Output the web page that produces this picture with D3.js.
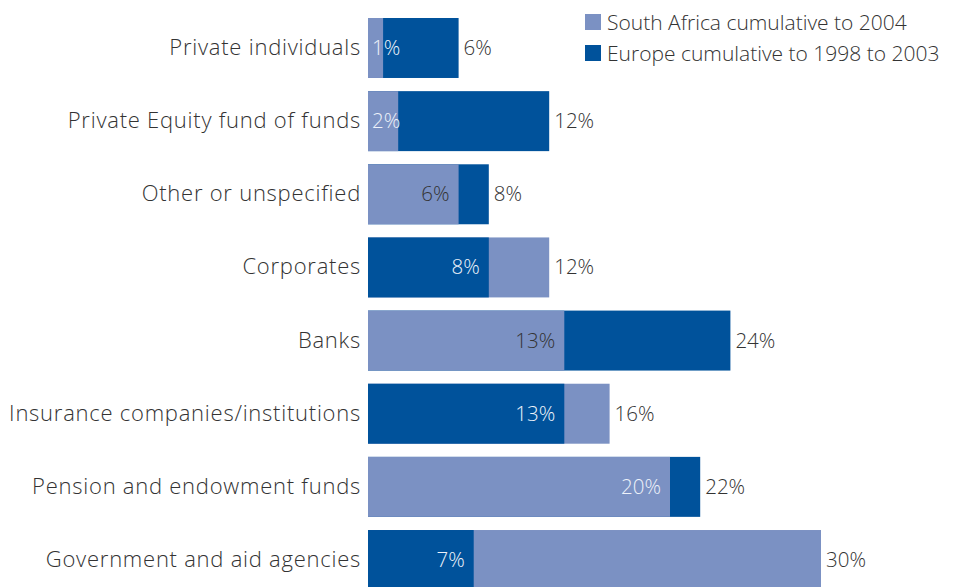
<!DOCTYPE html>
<html>
<head>
<meta charset="utf-8">
<script src="https://cdn.jsdelivr.net/npm/d3@7/dist/d3.min.js"></script>
<style>
  html, body { margin: 0; padding: 0; background: #fff; }
  svg { display: block; }
  text { font-family: "Open Sans", "Liberation Sans", sans-serif; font-weight: 300; }
</style>
</head>
<body>
<svg id="chart" width="955" height="587"></svg>
<script>
// Sources of private equity funds raised, share of total (%)
const categories = [
  "Private individuals",
  "Private Equity fund of funds",
  "Other or unspecified",
  "Corporates",
  "Banks",
  "Insurance companies/institutions",
  "Pension and endowment funds",
  "Government and aid agencies"
];
const southAfrica = [1, 2, 6, 12, 13, 16, 20, 30];
const europe      = [6, 12, 8, 8, 24, 13, 22, 7];
const seriesNames = ["South Africa cumulative to 2004", "Europe cumulative to 1998 to 2003"];

const colors = { sa: "#7b91c3", eu: "#00529b" };
const textDark = "#333333";
const textLight = "#eef2fa";
// rows whose inner label sits on a light bar but is set in dark text
const darkInner = new Set(["Other or unspecified", "Banks"]);

const svg = d3.select("#chart");

const x = d3.scaleLinear().domain([0, 30]).range([368, 821]);
const y = d3.scaleBand().domain(categories).range([18, 590]).paddingInner(0.18).paddingOuter(0);

const rows = categories.map((c, i) => {
  const s = southAfrica[i], e = europe[i];
  return {
    cat: c,
    back:  s >= e ? { v: s, key: "sa" } : { v: e, key: "eu" },
    front: s >= e ? { v: e, key: "eu" } : { v: s, key: "sa" }
  };
});

const g = svg.append("g");

const row = g.selectAll("g.row").data(rows).join("g").attr("class", "row");

// longer bar behind, shorter bar in front, both from zero
row.append("rect")
  .attr("x", x(0))
  .attr("y", d => y(d.cat))
  .attr("width", d => x(d.back.v) - x(0))
  .attr("height", y.bandwidth())
  .attr("fill", d => colors[d.back.key]);

row.append("rect")
  .attr("x", x(0))
  .attr("y", d => y(d.cat))
  .attr("width", d => x(d.front.v) - x(0))
  .attr("height", y.bandwidth())
  .attr("fill", d => colors[d.front.key]);

const mid = d => y(d.cat) + y.bandwidth() / 2;

// category labels
row.append("text")
  .attr("x", x(0) - 7)
  .attr("y", d => mid(d) - 2)
  .attr("text-anchor", "end")
  .attr("dominant-baseline", "central")
  .attr("font-size", 22)
  .attr("letter-spacing", 0.75)
  .attr("fill", textDark)
  .text(d => d.cat);

// outer value labels
row.append("text")
  .attr("x", d => x(d.back.v) + 5)
  .attr("y", d => mid(d) - 1)
  .attr("dominant-baseline", "central")
  .attr("font-size", 20.5)
  .attr("fill", textDark)
  .text(d => d.back.v + "%");

// inner value labels, right-aligned inside the shorter bar
row.append("text")
  .attr("y", d => mid(d) - 1)
  .attr("dominant-baseline", "central")
  .attr("text-anchor", "end")
  .attr("font-size", 20.5)
  .attr("fill", d => darkInner.has(d.cat) ? textDark : textLight)
  .text(d => d.front.v + "%")
  .attr("x", function(d) {
    const w = this.getComputedTextLength();
    return Math.max(x(d.front.v) - 9, x(0) + 4 + w);
  });

// legend
const legend = svg.append("g").attr("transform", "translate(585,14)");
const items = legend.selectAll("g").data(seriesNames).join("g")
  .attr("transform", (d, i) => `translate(0,${i * 31})`);
items.append("rect").attr("width", 16).attr("height", 16)
  .attr("fill", (d, i) => i === 0 ? colors.sa : colors.eu);
items.append("text").attr("x", 22).attr("y", 8)
  .attr("dominant-baseline", "central")
  .attr("font-size", 21)
  .attr("fill", textDark)
  .text(d => d);
</script>
</body>
</html>
